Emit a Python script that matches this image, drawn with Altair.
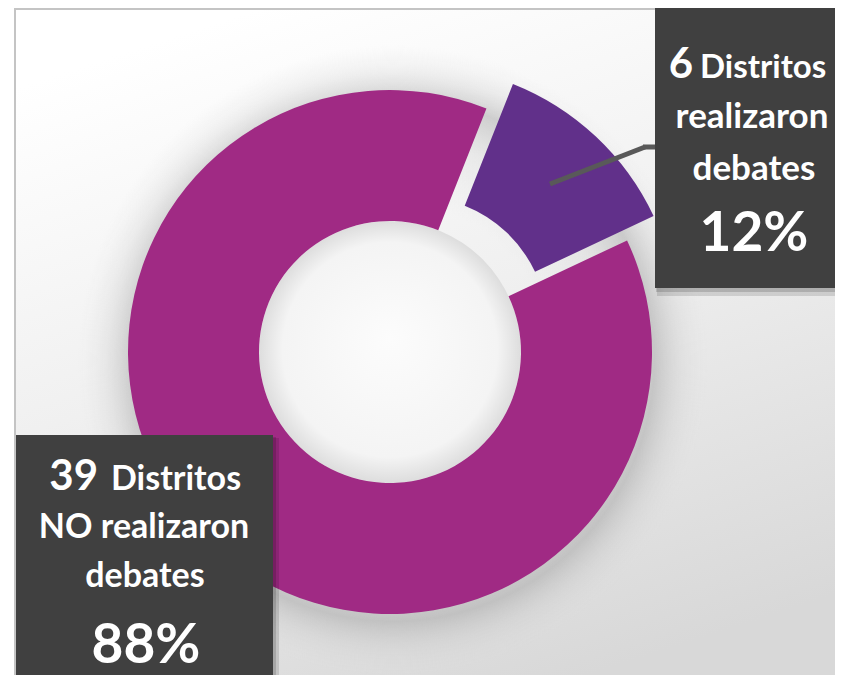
import math
import altair as alt
import pandas as pd

# ---- data ----
categories = ["realizaron debates", "NO realizaron debates"]
counts = [6, 39]
percents = [12, 88]
order_idx = [0, 1]
slice_colors = ["#61308A", "#A02A84"]
word_distritos = "Distritos"
line2_top = "realizaron"
line2_bottom = "NO realizaron"
line3 = "debates"

df = pd.DataFrame({"cat": categories, "pct": percents, "idx": order_idx})
one = pd.DataFrame({"k": [0]})

W, H = 827, 667
FONT = "Lato"

def P(v):
    # page coordinate -> chart coordinate (8px page margin)
    return v - 8

start = math.radians(21.6)
theta_scale = alt.Scale(domain=[0, 100], range=[start, start + 2 * math.pi])

bg = alt.Chart(one).mark_rect(
    fill={"gradient": "linear", "x1": 0.3, "y1": 0, "x2": 0.7, "y2": 1,
          "stops": [{"offset": 0, "color": "#ffffff"},
                    {"offset": 0.45, "color": "#f0f0f0"},
                    {"offset": 1, "color": "#d8d8d8"}]}
).encode(x=alt.value(P(15)), x2=alt.value(W), y=alt.value(P(8)), y2=alt.value(H))

border_top = alt.Chart(one).mark_rule(color="#c4c4c4", strokeWidth=2).encode(
    x=alt.value(P(15)), x2=alt.value(W), y=alt.value(1), y2=alt.value(1))
border_left = alt.Chart(one).mark_rule(color="#c4c4c4", strokeWidth=2).encode(
    x=alt.value(P(15)), x2=alt.value(P(15)), y=alt.value(0), y2=alt.value(H))

shadow = alt.Chart(one).mark_arc(
    radius=315, theta=0, theta2=2 * math.pi,
    fill={"gradient": "radial", "x1": 0.5, "y1": 0.5, "r1": 0,
          "x2": 0.5, "y2": 0.5, "r2": 0.5,
          "stops": [{"offset": 0, "color": "rgba(200,200,200,0)"},
                    {"offset": 0.5, "color": "rgba(200,200,200,0)"},
                    {"offset": 0.7, "color": "rgba(180,180,180,0.2)"},
                    {"offset": 0.83, "color": "rgba(165,165,165,0.5)"},
                    {"offset": 0.91, "color": "rgba(190,190,190,0.22)"},
                    {"offset": 1, "color": "rgba(220,220,220,0)"}]}
).encode(x=alt.value(P(393)), y=alt.value(P(360)))

hole = alt.Chart(one).mark_arc(
    radius=131, theta=0, theta2=2 * math.pi,
    fill={"gradient": "radial", "x1": 0.5, "y1": 0.45, "r1": 0,
          "x2": 0.5, "y2": 0.5, "r2": 0.5,
          "stops": [{"offset": 0, "color": "#fcfcfc"},
                    {"offset": 0.82, "color": "#f4f4f4"},
                    {"offset": 1, "color": "#dddddd"}]}
).encode(x=alt.value(P(390)), y=alt.value(P(352)))

def donut_layer(show_cat, cx, cy, color):
    return alt.Chart(df).mark_arc(radius=262, radius2=131, stroke=None).encode(
        theta=alt.Theta("pct:Q", stack=True, scale=theta_scale),
        order=alt.Order("idx:Q", sort="ascending"),
        fill=alt.condition(alt.datum.cat == show_cat, alt.value(color), alt.value("transparent")),
        x=alt.value(cx), y=alt.value(cy),
    )

main_arc = donut_layer(categories[1], P(390), P(352), slice_colors[1])
expl_arc = donut_layer(categories[0], P(416.5), P(327.6), slice_colors[0])

lead1 = alt.Chart(one).mark_rule(color="#595959", strokeWidth=5).encode(
    x=alt.value(P(550)), y=alt.value(P(184)), x2=alt.value(P(645)), y2=alt.value(P(147)))
lead2 = alt.Chart(one).mark_rule(color="#595959", strokeWidth=5).encode(
    x=alt.value(P(643)), y=alt.value(P(147)), x2=alt.value(P(656)), y2=alt.value(P(147)))

def box(x0, y0, x1, y1):
    sh1 = alt.Chart(one).mark_rect(color="#000000", opacity=0.12).encode(
        x=alt.value(x0 + 2), x2=alt.value(x1 + 6), y=alt.value(y0 + 3), y2=alt.value(y1 + 8))
    sh2 = alt.Chart(one).mark_rect(color="#000000", opacity=0.15).encode(
        x=alt.value(x0 + 1), x2=alt.value(x1 + 3), y=alt.value(y0 + 2), y2=alt.value(y1 + 4))
    b = alt.Chart(one).mark_rect(color="#404040").encode(
        x=alt.value(x0), x2=alt.value(x1), y=alt.value(y0), y2=alt.value(y1))
    return [sh1, sh2, b]

box_top = box(P(655), P(8), W, P(288))
box_bot = box(P(16), P(435), P(273), H)

def txt(s, x, y, size, align="center"):
    return alt.Chart(one).mark_text(
        text=s, font=FONT, fontWeight="bold", fontSize=size, color="#ffffff",
        align=align, baseline="alphabetic"
    ).encode(x=alt.value(x), y=alt.value(y))

texts = [
    txt(str(counts[0]), P(693), P(78), 42, "right"),
    txt(word_distritos, P(700), P(78), 33, "left"),
    txt(line2_top, P(752), P(128), 35),
    txt(line3, P(754), P(180), 35),
    txt(f"{percents[0]}%", P(754), P(251), 55),
    txt(str(counts[1]), P(98), P(490), 42, "right"),
    txt(word_distritos, P(111), P(490), 34, "left"),
    txt(line2_bottom, P(144), P(538), 34),
    txt(line3, P(145), P(587), 34),
    txt(f"{percents[1]}%", P(146), P(663), 55),
]

chart = alt.layer(
    bg, border_top, border_left, shadow, hole, main_arc, expl_arc, lead1, lead2,
    *box_top, *box_bot, *texts
).properties(
    width=W, height=H, autosize=alt.AutoSizeParams(type="none"), padding=0,
    background="#ffffff"
).configure_view(stroke=None)

chart.save("out.html", embed_options={"renderer": "svg", "actions": False})
